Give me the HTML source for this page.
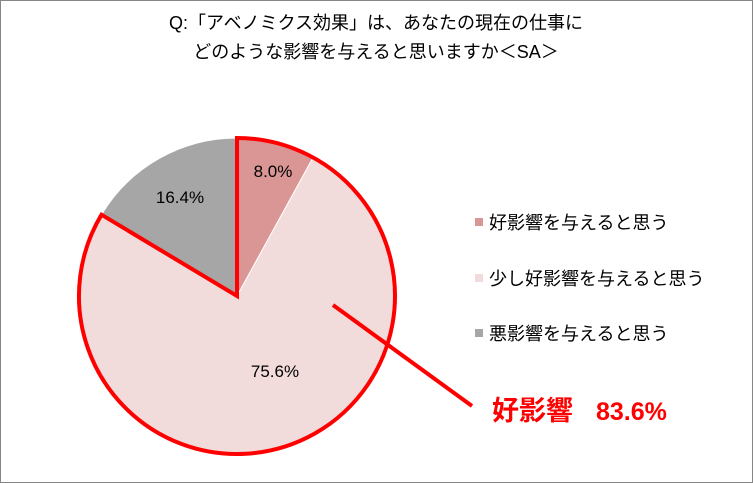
<!DOCTYPE html>
<html><head><meta charset="utf-8"><style>
body{margin:0;background:#fff}
svg{display:block}
text{font-family:"Liberation Sans","Noto Sans CJK JP",sans-serif}
</style></head><body>
<svg width="753" height="483" viewBox="0 0 753 483">
<rect x="0.5" y="0.5" width="752" height="482" fill="#fff" stroke="#868686"/>
<text x="376" y="29" font-size="18" text-anchor="middle" fill="#000">Q:「アベノミクス効果」は、あなたの現在の仕事に</text>
<text x="376" y="58" font-size="18" text-anchor="middle" fill="#000">どのような影響を与えると思いますか＜SA＞</text>
<path d="M237,296 L237,138 A158,158 0 0 1 313.1,157.5 Z" fill="#D99694" stroke="#fff" stroke-width="1"/>
<path d="M237,296 L313.1,157.5 A158,158 0 1 1 101.5,214.7 Z" fill="#F2DCDB" stroke="#fff" stroke-width="1"/>
<path d="M237,296 L101.5,214.7 A158,158 0 0 1 237,138 Z" fill="#A6A6A6" stroke="#fff" stroke-width="1"/>
<path d="M237,296 L237,138 A158,158 0 1 1 101.5,214.7 Z" fill="none" stroke="#FF0000" stroke-width="4" stroke-linejoin="miter"/>
<line x1="333" y1="305" x2="472" y2="406" stroke="#FF0000" stroke-width="4"/>
<text x="273" y="177" font-size="17" text-anchor="middle">8.0%</text>
<text x="180" y="203" font-size="17" text-anchor="middle">16.4%</text>
<text x="275" y="377" font-size="17" text-anchor="middle">75.6%</text>
<rect x="475" y="218" width="8" height="8" fill="#D99694"/>
<text x="489" y="229" font-size="18">好影響を与えると思う</text>
<rect x="475" y="274" width="8" height="8" fill="#F2DCDB"/>
<text x="489" y="285" font-size="18">少し好影響を与えると思う</text>
<rect x="475" y="329" width="8" height="8" fill="#A6A6A6"/>
<text x="489" y="340" font-size="18">悪影響を与えると思う</text>
<text x="492" y="420" font-size="27" font-weight="bold" fill="#FF0000">好影響</text>
<text x="596" y="420" font-size="25" font-weight="bold" fill="#FF0000">83.6%</text>
</svg>
</body></html>
